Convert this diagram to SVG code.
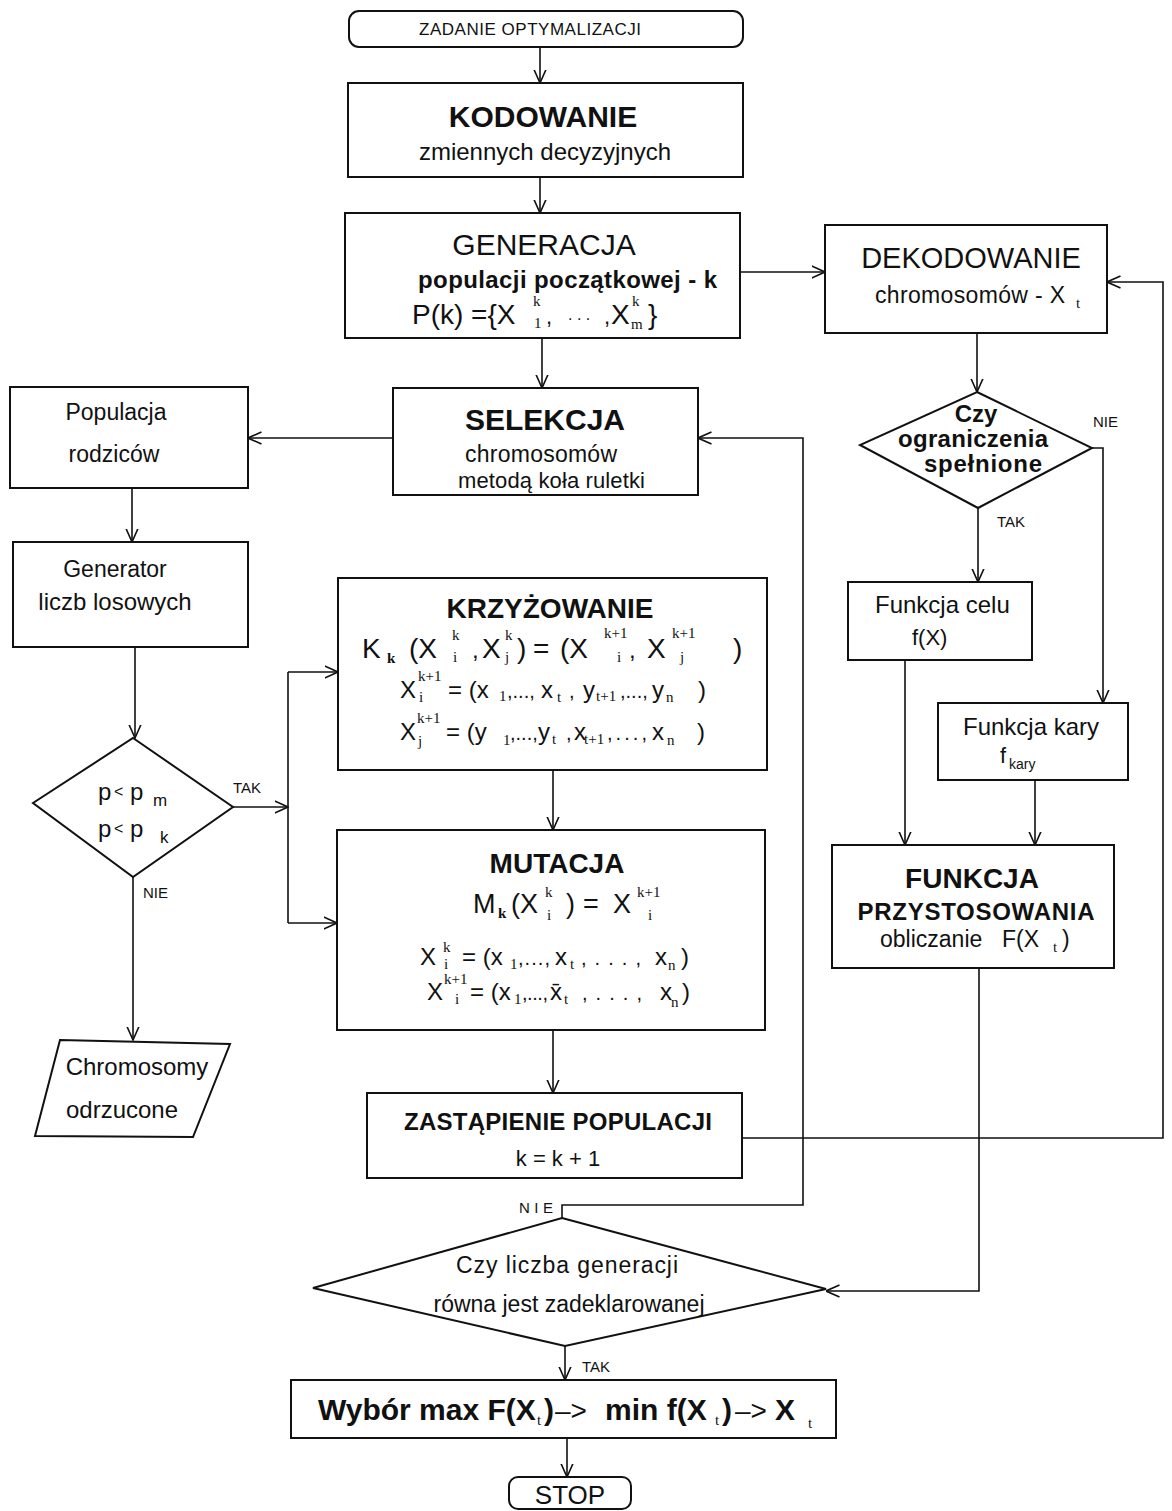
<svg xmlns="http://www.w3.org/2000/svg" width="1172" height="1511" viewBox="0 0 1172 1511">
  <defs>
    <marker id="ah" viewBox="0 0 14 14" refX="13.5" refY="7" markerWidth="14" markerHeight="14" markerUnits="userSpaceOnUse" orient="auto">
      <path d="M0,1 L13.5,7 L0,13" fill="none" stroke="#111" stroke-width="1.6"/>
    </marker>
    <style>
      .box { fill: #fff; stroke: #111; stroke-width: 2; }
      .ln { fill: none; stroke: #111; stroke-width: 1.6; }
      .arr { fill: none; stroke: #111; stroke-width: 1.6; marker-end: url(#ah); }
      text { font-family: "Liberation Sans", Arial, sans-serif; fill: #111; }
      .b { font-weight: bold; }
      .c { text-anchor: middle; }
      .sc { font-family: "Liberation Serif", "Times New Roman", serif; font-size: 15px; }
      .lbl { font-size: 15px; }
    </style>
  </defs>

  <!-- connectors -->
  <g id="connectors">
    <path class="arr" d="M540,47 V83"/>
    <path class="arr" d="M540,177 V213"/>
    <path class="arr" d="M542,338 V388"/>
    <path class="arr" d="M740,272 H825"/>
    <path class="arr" d="M977,333 V392"/>
    <path class="arr" d="M1092,448 H1103 V703"/>
    <path class="arr" d="M978,508 V582"/>
    <path class="arr" d="M905,660 V845"/>
    <path class="arr" d="M1035,780 V845"/>
    <path class="arr" d="M979,968 V1291 H826"/>
    <path class="arr" d="M742,1138 H1163 V282 H1107"/>
    <path class="arr" d="M393,438 H248"/>
    <path class="arr" d="M132,488 V542"/>
    <path class="arr" d="M135,647 V738"/>
    <path class="arr" d="M233,807 H288"/>
    <path class="ln" d="M288,672 V923"/>
    <path class="arr" d="M288,672 H338"/>
    <path class="arr" d="M288,923 H337"/>
    <path class="arr" d="M133,877 V1040"/>
    <path class="arr" d="M553,770 V830"/>
    <path class="arr" d="M553,1030 V1093"/>
    <path class="arr" d="M562,1218 V1205 H803 V438 H698"/>
    <path class="arr" d="M565,1346 V1380"/>
    <path class="arr" d="M567,1438 V1477"/>
    <!-- branch labels -->
    <text class="lbl" x="1093" y="427">NIE</text>
    <text class="lbl" x="997" y="527">TAK</text>
    <text class="lbl" x="233" y="793">TAK</text>
    <text class="lbl" x="143" y="898">NIE</text>
    <text class="lbl" x="519" y="1213" textLength="34">NIE</text>
    <text class="lbl" x="582" y="1372">TAK</text>
  </g>

  <!-- start terminal -->
  <g id="start">
    <rect class="box" x="349" y="11" width="394" height="36" rx="10"/>
    <text x="419" y="35" font-size="17" textLength="222">ZADANIE OPTYMALIZACJI</text>
  </g>

  <g id="kodowanie">
    <rect class="box" x="348" y="83" width="395" height="94"/>
    <text class="b c" x="543" y="127" font-size="30">KODOWANIE</text>
    <text class="c" x="545" y="160" font-size="24">zmiennych decyzyjnych</text>
  </g>

  <g id="generacja">
    <rect class="box" x="345" y="213" width="395" height="125"/>
    <text class="c" x="544" y="255" font-size="30">GENERACJA</text>
    <text class="b" x="418" y="288" font-size="24" textLength="299">populacji początkowej - k</text>
    <text x="412" y="324" font-size="28">P(k) ={X</text>
    <text class="sc" x="533" y="306" font-size="13">k</text>
    <text class="sc" x="534" y="328" font-size="14">1</text>
    <text x="546" y="324" font-size="22">,</text>
    <text x="568" y="320" font-size="16">. . .</text>
    <text x="604" y="324" font-size="22">,</text>
    <text x="611" y="324" font-size="28">X</text>
    <text class="sc" x="632" y="306" font-size="13">k</text>
    <text class="sc" x="631" y="329">m</text>
    <text x="648" y="324" font-size="28">}</text>
  </g>

  <g id="dekodowanie">
    <rect class="box" x="825" y="225" width="282" height="108"/>
    <text class="c" x="971" y="268" font-size="29">DEKODOWANIE</text>
    <text x="875" y="303" font-size="23" textLength="190">chromosomów - X</text>
    <text class="sc" x="1076" y="308" font-size="13">t</text>
  </g>

  <g id="selekcja">
    <rect class="box" x="393" y="388" width="305" height="107"/>
    <text class="b c" x="545" y="430" font-size="30">SELEKCJA</text>
    <text x="465" y="462" font-size="23" textLength="152">chromosomów</text>
    <text x="458" y="488" font-size="22" textLength="187">metodą koła ruletki</text>
  </g>

  <g id="ograniczenia">
    <polygon class="box" points="977,392 1092,448 978,508 860,445"/>
    <text class="b c" x="976" y="422" font-size="24">Czy</text>
    <text class="b c" x="973" y="447" font-size="24" textLength="150">ograniczenia</text>
    <text class="b c" x="983" y="472" font-size="24" textLength="118">spełnione</text>
  </g>

  <g id="funkcja-celu">
    <rect class="box" x="848" y="582" width="184" height="78"/>
    <text x="875" y="613" font-size="24">Funkcja celu</text>
    <text x="912" y="645" font-size="22">f(X)</text>
  </g>

  <g id="funkcja-kary">
    <rect class="box" x="938" y="703" width="190" height="77"/>
    <text x="963" y="735" font-size="24">Funkcja kary</text>
    <text x="1000" y="763" font-size="22">f</text>
    <text x="1009" y="769" font-size="14">kary</text>
  </g>

  <g id="funkcja-przystosowania">
    <rect class="box" x="832" y="845" width="282" height="123"/>
    <text class="b c" x="972" y="888" font-size="28">FUNKCJA</text>
    <text class="b c" x="976" y="920" font-size="24" textLength="237">PRZYSTOSOWANIA</text>
    <text x="880" y="947" font-size="23">obliczanie</text>
    <text x="1002" y="947" font-size="23">F(X</text>
    <text class="sc" x="1053" y="952" font-size="13">t</text>
    <text x="1062" y="947" font-size="23">)</text>
  </g>

  <g id="populacja">
    <rect class="box" x="10" y="387" width="238" height="101"/>
    <text class="c" x="116" y="420" font-size="23">Populacja</text>
    <text class="c" x="114" y="462" font-size="23">rodziców</text>
  </g>

  <g id="generator">
    <rect class="box" x="13" y="542" width="235" height="105"/>
    <text class="c" x="115" y="577" font-size="23">Generator</text>
    <text class="c" x="115" y="610" font-size="24">liczb losowych</text>
  </g>

  <g id="prawdopodobienstwo">
    <polygon class="box" points="133,738 233,807 133,877 33,803"/>
    <text x="98" y="800" font-size="24">p</text>
    <text x="114" y="797" font-size="16">&lt;</text>
    <text x="130" y="800" font-size="24">p</text>
    <text x="153" y="806" font-size="17">m</text>
    <text x="98" y="837" font-size="24">p</text>
    <text x="114" y="834" font-size="16">&lt;</text>
    <text x="130" y="837" font-size="24">p</text>
    <text x="160" y="843" font-size="17">k</text>
  </g>

  <g id="odrzucone">
    <polygon class="box" points="60,1040 230,1044 193,1137 35,1136"/>
    <text class="c" x="137" y="1075" font-size="24">Chromosomy</text>
    <text class="c" x="122" y="1118" font-size="24">odrzucone</text>
  </g>

  <g id="krzyzowanie">
    <rect class="box" x="338" y="578" width="429" height="192"/>
    <text class="b c" x="550" y="618" font-size="28">KRZYŻOWANIE</text>
    <!-- K_k(X_i^k, X_j^k) = (X_i^{k+1}, X_j^{k+1}) -->
    <text x="362" y="658" font-size="28">K</text>
    <text class="sc b" x="387" y="663" font-size="16">k</text>
    <text x="409" y="658" font-size="28">(X</text>
    <text class="sc" x="452" y="640">k</text>
    <text class="sc" x="453" y="662">i</text>
    <text x="472" y="658" font-size="24">,</text>
    <text x="482" y="658" font-size="28">X</text>
    <text class="sc" x="505" y="640">k</text>
    <text class="sc" x="505" y="662">j</text>
    <text x="517" y="658" font-size="28">)</text>
    <text x="533" y="658" font-size="28">=</text>
    <text x="560" y="658" font-size="28">(X</text>
    <text class="sc" x="604" y="638">k+1</text>
    <text class="sc" x="617" y="662">i</text>
    <text x="629" y="658" font-size="24">,</text>
    <text x="647" y="658" font-size="28">X</text>
    <text class="sc" x="672" y="638">k+1</text>
    <text class="sc" x="680" y="662">j</text>
    <text x="733" y="658" font-size="28">)</text>
    <!-- X_i^{k+1} -->
    <text x="400" y="698" font-size="24">X</text>
    <text class="sc" x="418" y="681">k+1</text>
    <text class="sc" x="419" y="702">i</text>
    <text x="448" y="698" font-size="24">= (x</text>
    <text class="sc" x="499" y="701" font-size="14">1</text>
    <text x="507" y="698" font-size="20">,...,</text>
    <text x="541" y="698" font-size="24">x</text>
    <text class="sc" x="557" y="702" font-size="14">t</text>
    <text x="569" y="698" font-size="20">,</text>
    <text x="583" y="698" font-size="24">y</text>
    <text class="sc" x="596" y="701" font-size="14">t+1</text>
    <text x="620" y="698" font-size="20">,...,</text>
    <text x="652" y="698" font-size="24">y</text>
    <text class="sc" x="666" y="702" font-size="14">n</text>
    <text x="698" y="698" font-size="24">)</text>
    <!-- X_j^{k+1} -->
    <text x="400" y="740" font-size="24">X</text>
    <text class="sc" x="417" y="723">k+1</text>
    <text class="sc" x="418" y="746">j</text>
    <text x="446" y="740" font-size="24">= (y</text>
    <text class="sc" x="503" y="745" font-size="14">1</text>
    <text x="510" y="740" font-size="20">,...,</text>
    <text x="538" y="740" font-size="24">y</text>
    <text class="sc" x="552" y="744" font-size="14">t</text>
    <text x="566" y="740" font-size="20">,</text>
    <text x="574" y="740" font-size="24">x</text>
    <text class="sc" x="584" y="744" font-size="14">t+1</text>
    <text x="607" y="740" font-size="20" textLength="40">,...,</text>
    <text x="652" y="740" font-size="24">x</text>
    <text class="sc" x="667" y="745" font-size="14">n</text>
    <text x="697" y="740" font-size="24">)</text>
  </g>

  <g id="mutacja">
    <rect class="box" x="337" y="830" width="428" height="200"/>
    <text class="b c" x="557" y="873" font-size="28">MUTACJA</text>
    <!-- M_k(X_i^k) = X_i^{k+1} -->
    <text x="473" y="913" font-size="27">M</text>
    <text class="sc b" x="498" y="918" font-size="16">k</text>
    <text x="511" y="913" font-size="27">(X</text>
    <text class="sc" x="545" y="897">k</text>
    <text class="sc" x="547" y="920">i</text>
    <text x="566" y="913" font-size="27">)</text>
    <text x="583" y="913" font-size="27">=</text>
    <text x="613" y="913" font-size="27">X</text>
    <text class="sc" x="637" y="897">k+1</text>
    <text class="sc" x="648" y="920">i</text>
    <!-- X_i^k -->
    <text x="420" y="965" font-size="24">X</text>
    <text class="sc" x="443" y="952">k</text>
    <text class="sc" x="444" y="969">i</text>
    <text x="462" y="965" font-size="24">= (x</text>
    <text class="sc" x="510" y="969" font-size="14">1</text>
    <text x="518" y="965" font-size="20" textLength="32">,...,</text>
    <text x="555" y="965" font-size="24">x</text>
    <text class="sc" x="570" y="969" font-size="14">t</text>
    <text x="581" y="965" font-size="20" textLength="60">,...,</text>
    <text x="655" y="965" font-size="24">x</text>
    <text class="sc" x="668" y="970" font-size="14">n</text>
    <text x="681" y="965" font-size="24">)</text>
    <!-- X_i^{k+1} after mutation -->
    <text x="427" y="1000" font-size="24">X</text>
    <text class="sc" x="444" y="984">k+1</text>
    <text class="sc" x="455" y="1004">i</text>
    <text x="470" y="1000" font-size="24">= (x</text>
    <text class="sc" x="514" y="1004" font-size="14">1</text>
    <text x="522" y="1000" font-size="20" textLength="26">,...,</text>
    <text x="550" y="1000" font-size="24">x̄</text>
    <text class="sc" x="564" y="1004" font-size="14">t</text>
    <text x="582" y="1000" font-size="20" textLength="60">,...,</text>
    <text x="660" y="1000" font-size="24">x</text>
    <text class="sc" x="671" y="1007" font-size="13">n</text>
    <text x="682" y="1000" font-size="24">)</text>
  </g>

  <g id="zastapienie">
    <rect class="box" x="367" y="1093" width="375" height="85"/>
    <text class="b c" x="558" y="1130" font-size="24" textLength="308">ZASTĄPIENIE POPULACJI</text>
    <text class="c" x="558" y="1166" font-size="22">k = k + 1</text>
  </g>

  <g id="liczba-generacji">
    <polygon class="box" points="562,1218 826,1289 565,1346 313,1288"/>
    <text class="c" x="567" y="1273" font-size="23" textLength="222">Czy liczba generacji</text>
    <text class="c" x="569" y="1312" font-size="23">równa jest zadeklarowanej</text>
  </g>

  <g id="wybor">
    <rect class="box" x="291" y="1380" width="545" height="58"/>
    <text class="b" x="318" y="1420" font-size="30">Wybór max F(X</text>
    <text class="sc" x="537" y="1425" font-size="13">t</text>
    <text class="b" x="544" y="1420" font-size="30">)</text>
    <text x="555" y="1420" font-size="28">–&gt;</text>
    <text class="b" x="605" y="1420" font-size="30">min f(X</text>
    <text class="sc" x="715" y="1425" font-size="13">t</text>
    <text class="b" x="722" y="1420" font-size="30">)</text>
    <text x="735" y="1420" font-size="28">–&gt;</text>
    <text class="b" x="775" y="1420" font-size="30">X</text>
    <text class="sc" x="808" y="1428" font-size="13">t</text>
  </g>

  <g id="stop">
    <rect class="box" x="509" y="1477" width="122" height="32" rx="9"/>
    <text class="c" x="570" y="1504" font-size="26">STOP</text>
  </g>
</svg>
